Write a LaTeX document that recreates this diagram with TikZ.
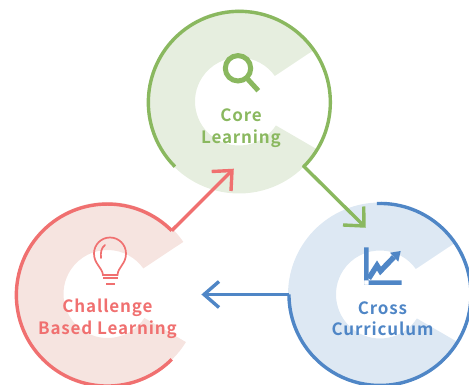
\documentclass[tikz,border=0pt]{standalone}
\usepackage{fontspec}
\setmainfont{Noto Sans CJK JP}[LetterSpace=5,BoldFont={Noto Sans CJK JP Bold}]
\definecolor{gs}{HTML}{8AB85F}\definecolor{gf}{HTML}{E6EEDF}
\definecolor{rs}{HTML}{F07070}\definecolor{rf}{HTML}{F6E4E0}
\definecolor{bs}{HTML}{4F86C6}\definecolor{bf}{HTML}{DDE8F3}
\tikzset{
  ring/.style={line width=3.4pt},
  link/.style={line width=3.4pt,miter limit=10},
  label/.style={font=\bfseries\fontsize{17}{21.5}\selectfont,align=center,inner sep=0pt},
}
\newcommand{\cshape}[2]{%
  \fill[#2,shift={(#1)}] (34.5:92) arc[start angle=34.5,end angle=328.5,radius=92]
    -- (327:44) arc[start angle=327,end angle=35.5,radius=44] -- cycle;
}
\begin{document}
\begin{tikzpicture}[x=1pt,y=1pt]
\useasboundingbox (0,0) rectangle (469,385);
\coordinate (core) at (239,283.5);
\coordinate (chal) at (107.5,91);
\coordinate (cros) at (380,90.5);
% filled C shapes
\cshape{core}{gf}
\cshape{chal}{rf}
\cshape{cros}{bf}
% end points
\coordinate (coreend) at (303,219.5);
\coordinate (crosstip) at (364,159);
\coordinate (chalend) at (171.7,154.3);
\coordinate (chaltip) at (232,214.5);
\coordinate (crosend) at (289,90.5);
\coordinate (bluetip) at (204,90.5);
% green ring + arrow
\draw[ring,gs] (175,218.3) arc[start angle=225,end angle=-45,radius=91];
\draw[link,gs,line cap=butt] (coreend) -- (crosstip);
\draw[link,gs] (363.7,178.5) -- (crosstip) -- (343,160);
% red ring + arrow
\draw[ring,rs] (chalend) arc[start angle=45,end angle=315,radius=91];
\draw[link,rs] (chalend) -- (chaltip);
\draw[link,rs] (211.7,213.5) -- (chaltip) -- (231,194);
% blue ring + arrow
\draw[ring,bs] (376.8,181.5) arc[start angle=92,end angle=-180,radius=91];
\draw[link,bs] (crosend) -- (bluetip);
\draw[link,bs] (219,103.5) -- (bluetip) -- (219,77.5);
% labels
\node[label,text=gs] (corelabel) at (241,256.8) {Core\\Learning};
\node[label,text=rs] (challabel) at (107.5,66.2) {Challenge\\Based Learning};
\node[label,text=bs] (croslabel) at (382.5,66.2) {Cross\\Curriculum};
% magnifier
\draw[gs,line width=5pt] (238,316.7) circle (12.7);
\draw[gs,line width=5pt] (246.7,307) -- (258.3,294.3);
% bulb
\draw[rs,line width=1.7pt] (103,110) .. controls (102,118) and (94,121) .. (94,131.5)
  arc[start angle=180,end angle=0,radius=16] .. controls (126,121) and (118,118) .. (117.5,110) -- cycle;
\draw[rs,line width=1.7pt,line cap=round] (105,140) .. controls (101,137) and (100.5,132) .. (101,127);
\draw[rs,line width=1.7pt] (103,106.7) -- (118,106.7);
\draw[rs,line width=1.7pt] (106,101) -- (115,101);
% chart
\fill[bs] (364,137.7) rectangle (368.7,100) (364,100) rectangle (401.7,104.7);
\draw[bs,line width=5.4pt] (368.7,106.5) -- (377,119.5) -- (380.5,114) -- (394,128);
\fill[bs] (400.7,134) -- (390,132.3) -- (398.3,123.3) -- cycle;
\end{tikzpicture}
\end{document}
